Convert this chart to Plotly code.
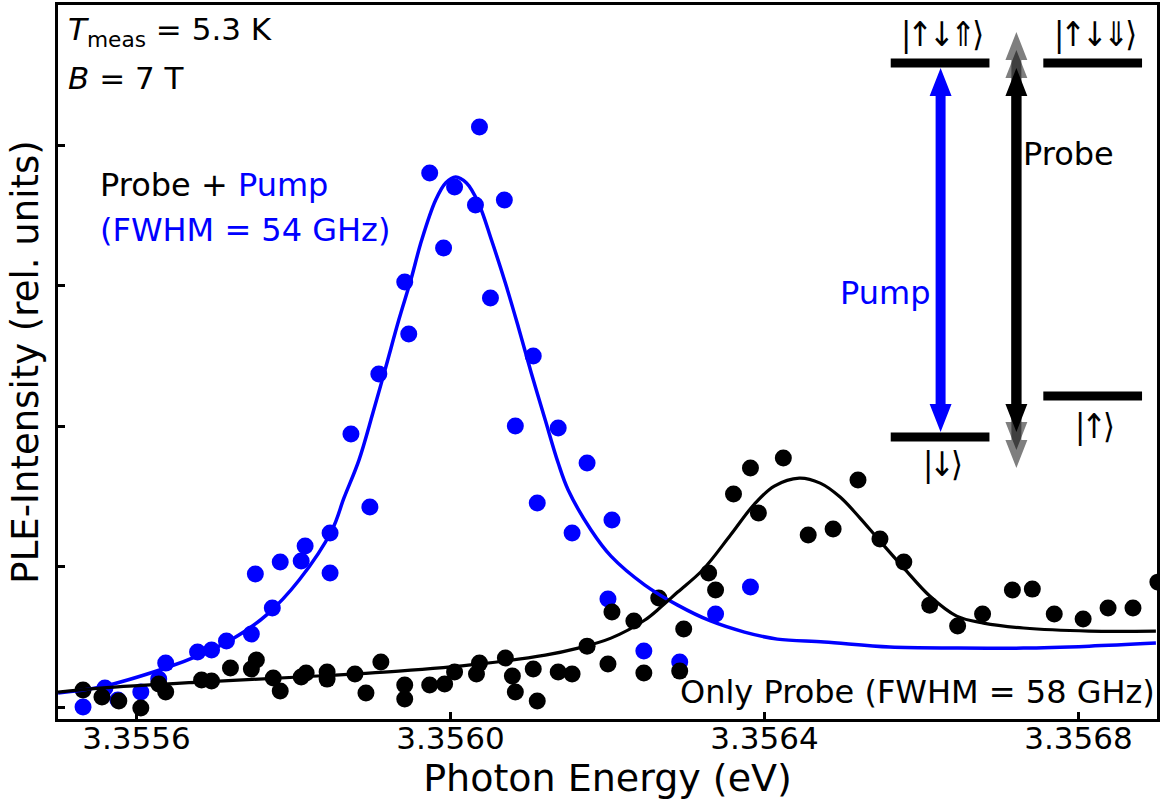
import plotly.graph_objects as go

# ---------------- data ----------------
pump_energy = [3.3555319, 3.3555598, 3.3555763, 3.3556055, 3.3556283, 3.3556372, 3.3556778,
               3.3556956, 3.3557146, 3.3557463, 3.3557514, 3.3557730, 3.3557831, 3.3558098,
               3.3558148, 3.3558466, 3.3558466, 3.3558732, 3.3558973, 3.3559087, 3.3559417,
               3.3559468, 3.3559735, 3.3559912, 3.3560052, 3.3560318, 3.3560369, 3.3560509,
               3.3560686, 3.3560826, 3.3561054, 3.3561105, 3.3561372, 3.3561549, 3.3561740,
               3.3562057, 3.3562006, 3.3562463, 3.3562920, 3.3563377, 3.3563821]
pump_intensity = [0.000, 0.135, 0.050, 0.107, 0.199, 0.313, 0.392, 0.406, 0.470, 0.520,
                  0.947, 0.705, 1.033, 1.040, 1.147, 1.239, 0.954, 1.944, 1.425, 2.372,
                  3.027, 2.657, 3.803, 3.269, 3.704, 3.575, 4.131, 2.913, 3.611, 2.001,
                  2.500, 1.453, 1.987, 1.239, 1.738, 1.332, 0.769, 0.399, 0.321, 0.662, 0.855]

probe_energy = [3.3555319, 3.3555560, 3.3555775, 3.3556055, 3.3556283, 3.3556372, 3.3556829,
                3.3556956, 3.3557197, 3.3557463, 3.3557527, 3.3557742, 3.3557831, 3.3558098,
                3.3558161, 3.3558428, 3.3558428, 3.3558783, 3.3558923, 3.3559113, 3.3559417,
                3.3559417, 3.3559735, 3.3559925, 3.3560052, 3.3560331, 3.3560369, 3.3560699,
                3.3560788, 3.3560826, 3.3561054, 3.3561105, 3.3561372, 3.3561549, 3.3561740,
                3.3562006, 3.3562057, 3.3562336, 3.3562463, 3.3562653, 3.3562920, 3.3562971,
                3.3563288, 3.3563377, 3.3563605, 3.3563821, 3.3563922, 3.3564240, 3.3564557,
                3.3564874, 3.3565191, 3.3565471, 3.3565775, 3.3566105, 3.3566460, 3.3566778,
                3.3567158, 3.3567412, 3.3567691, 3.3568059, 3.3568377, 3.3568694, 3.3569011]
probe_intensity = [0.121, 0.071, 0.043, -0.007, 0.164, 0.107, 0.192, 0.185, 0.278, 0.271,
                   0.335, 0.207, 0.114, 0.214, 0.242, 0.249, 0.199, 0.235, 0.100, 0.321,
                   0.157, 0.057, 0.157, 0.164, 0.249, 0.235, 0.313, 0.349, 0.221, 0.107,
                   0.271, 0.043, 0.249, 0.235, 0.434, 0.306, 0.677, 0.613, 0.242, 0.776,
                   0.256, 0.556, 0.954, 0.833, 1.517, 1.702, 1.382, 1.774, 1.225, 1.268,
                   1.617, 1.197, 1.033, 0.726, 0.577, 0.662, 0.833, 0.840, 0.662, 0.627,
                   0.705, 0.705, 0.890]

pump_fit_energy = [3.3555001, 3.3555534, 3.3556372, 3.3556803, 3.3557222, 3.3557654, 3.3558072,
                   3.3558491, 3.3558643, 3.3558834, 3.3559011, 3.3559176, 3.3559341, 3.3559494,
                   3.3559633, 3.3559811, 3.3559938, 3.3560065, 3.3560204, 3.3560356, 3.3560522,
                   3.3560699, 3.3560864, 3.3561029, 3.3561207, 3.3561372, 3.3561499, 3.3561790,
                   3.3562044, 3.3562476, 3.3562894, 3.3563313, 3.3563745, 3.3564163, 3.3564760,
                   3.3565597, 3.3566448, 3.3567298, 3.3568135, 3.3568986]
pump_fit_intensity = [0.100, 0.142, 0.278, 0.370, 0.484, 0.655, 0.905, 1.261, 1.489, 1.759,
                      2.094, 2.422, 2.756, 3.041, 3.326, 3.611, 3.732, 3.775, 3.732, 3.590,
                      3.326, 3.020, 2.707, 2.379, 2.044, 1.738, 1.546, 1.261, 1.075, 0.869,
                      0.726, 0.613, 0.534, 0.484, 0.463, 0.427, 0.420, 0.420, 0.434, 0.456]

probe_fit_energy = [3.3555001, 3.3555534, 3.3556803, 3.3558072, 3.3559341, 3.3560356, 3.3561207,
                    3.3561626, 3.3562044, 3.3562476, 3.3562679, 3.3562894, 3.3563212, 3.3563567,
                    3.3563872, 3.3564125, 3.3564443, 3.3564709, 3.3564963, 3.3565217, 3.3565471,
                    3.3565775, 3.3566105, 3.3566448, 3.3566790, 3.3567298, 3.3568135, 3.3568986]
probe_fit_intensity = [0.107, 0.135, 0.178, 0.214, 0.256, 0.306, 0.370, 0.420, 0.491, 0.620,
                       0.712, 0.819, 0.976, 1.225, 1.446, 1.574, 1.631, 1.595, 1.496, 1.346,
                       1.182, 0.990, 0.791, 0.648, 0.598, 0.563, 0.541, 0.541]

x_ticks = [3.3556, 3.3560, 3.3564, 3.3568]
x_tick_labels = ["3.3556", "3.3560", "3.3564", "3.3568"]
y_ticks = [0, 1, 2, 3, 4]

# ---------------- styling ----------------
FONT = "DejaVu Sans"
BLUE = "#0000ff"
W, H = 1161, 801
ML, MR, MT, MB = 58, 1, 5, 82
PW, PH = W - ML - MR, H - MT - MB


def pp(px, py):
    """pixel position in the page -> paper coordinates"""
    return (px - ML) / PW, (H - MB - py) / PH


def arrow_path(xc, ytop, ybot, sw=10, hw=11, hl=28):
    pts = [(xc, ytop), (xc + hw, ytop + hl), (xc + sw / 2, ytop + hl), (xc + sw / 2, ybot - hl),
           (xc + hw, ybot - hl), (xc, ybot), (xc - hw, ybot - hl), (xc - sw / 2, ybot - hl),
           (xc - sw / 2, ytop + hl), (xc - hw, ytop + hl)]
    s = ""
    for i, (a, b) in enumerate(pts):
        u, v = pp(a, b)
        s += ("M" if i == 0 else "L") + f"{u:.5f},{v:.5f} "
    return s + "Z"


fig = go.Figure()
fig.add_trace(go.Scatter(x=pump_energy, y=pump_intensity, mode="markers",
                         marker=dict(color=BLUE, size=17, line=dict(width=0)), showlegend=False))
fig.add_trace(go.Scatter(x=probe_energy, y=probe_intensity, mode="markers",
                         marker=dict(color="black", size=17, line=dict(width=0)), showlegend=False))
fig.add_trace(go.Scatter(x=pump_fit_energy, y=pump_fit_intensity, mode="lines",
                         line=dict(color=BLUE, width=3.5, shape="spline", smoothing=1.0),
                         showlegend=False))
fig.add_trace(go.Scatter(x=probe_fit_energy, y=probe_fit_intensity, mode="lines",
                         line=dict(color="black", width=3.2, shape="spline", smoothing=1.0),
                         showlegend=False))

shapes = []
# energy levels
levels = [(893, 992, 63), (1046, 1145, 63), (893, 992, 437), (1046, 1145, 396)]
for x0, x1, yc in levels:
    a, b = pp(x0, yc - 4.5)
    c, d = pp(x1, yc + 4.5)
    shapes.append(dict(type="rect", xref="paper", yref="paper", x0=a, x1=c, y0=d, y1=b,
                       fillcolor="black", line=dict(width=0)))
# arrows
shapes.append(dict(type="path", xref="paper", yref="paper", path=arrow_path(943, 68, 432),
                   fillcolor=BLUE, line=dict(width=0)))
shapes.append(dict(type="path", xref="paper", yref="paper", path=arrow_path(1019, 32, 468),
                   fillcolor="rgba(0,0,0,0.5)", line=dict(width=0)))
shapes.append(dict(type="path", xref="paper", yref="paper", path=arrow_path(1019, 50, 450),
                   fillcolor="rgba(0,0,0,0.5)", line=dict(width=0)))
shapes.append(dict(type="path", xref="paper", yref="paper", path=arrow_path(1019, 68, 432),
                   fillcolor="black", line=dict(width=0)))

annotations = []


def add_text(text, px, py, xanchor="left", size=32, color="black", family=FONT):
    u, v = pp(px, py)
    annotations.append(dict(text=text, x=u, y=v, xref="paper", yref="paper", xanchor=xanchor,
                            yanchor="middle", showarrow=False,
                            font=dict(family=family, size=size, color=color)))


add_text("<i>T</i><sub>meas</sub> = 5.3 K", 66, 32, size=31)
add_text("<i>B</i> = 7 T", 66, 78, size=31)
add_text(f"Probe + <span style='color:{BLUE}'>Pump</span>", 98, 185)
add_text("(FWHM = 54 GHz)", 98, 230, color=BLUE)
add_text("Only Probe (FWHM = 58 GHz)", 1160, 692, xanchor="right")
add_text("Pump", 888, 293, xanchor="center", color=BLUE)
add_text("Probe", 1071, 154, xanchor="center")
KET = "DejaVu Sans Condensed, DejaVu Sans"


def ket(s):
    return f"<span style='letter-spacing:-4px'>{s}</span>"


add_text(ket("|↑↓⇑⟩"), 944, 34, xanchor="center", size=34, family=KET)
add_text(ket("|↑↓⇓⟩"), 1097, 34, xanchor="center", size=34, family=KET)
add_text(ket("|↑⟩"), 1097, 426, xanchor="center", size=34, family=KET)
add_text(ket("|↓⟩"), 944, 464, xanchor="center", size=34, family=KET)

axis_common = dict(showline=True, linewidth=3, linecolor="black", mirror=True, showgrid=False,
                   zeroline=False, ticks="inside", ticklen=7, tickwidth=2.5, tickcolor="black")

fig.update_layout(
    width=W, height=H,
    margin=dict(l=ML, r=MR, t=MT, b=MB),
    paper_bgcolor="white", plot_bgcolor="white",
    font=dict(family=FONT, color="black"),
    shapes=shapes, annotations=annotations,
    xaxis=dict(range=[3.3555, 3.3569], tickvals=x_ticks, ticktext=x_tick_labels,
               tickfont=dict(family=FONT, size=31, color="black"), ticklabelstandoff=-10,
               title=dict(text="Photon Energy (eV)", font=dict(family=FONT, size=38), standoff=0),
               **axis_common),
    yaxis=dict(range=[-0.085, 5.0], tickvals=y_ticks, showticklabels=False,
               title=dict(text="PLE-Intensity (rel. units)", font=dict(family=FONT, size=37),
                          standoff=6),
               **axis_common),
)

fig.write_html("out.html", config={"displayModeBar": False},
               post_script="document.body.style.margin='0';")
